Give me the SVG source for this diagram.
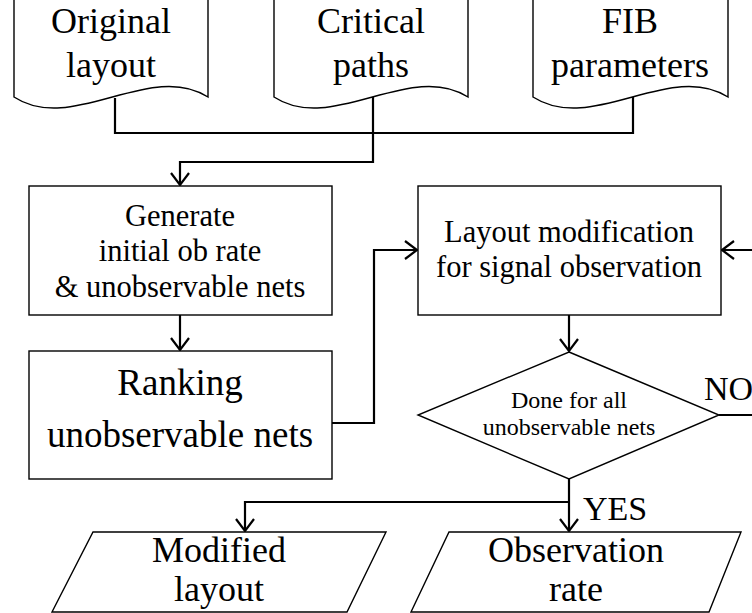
<svg xmlns="http://www.w3.org/2000/svg" width="752" height="613" viewBox="0 0 752 613" font-family="Liberation Serif, serif">
<style>
.shape{fill:#fff;stroke:#000;stroke-width:1.4}
.conn{fill:none;stroke:#000;stroke-width:2.2;stroke-linejoin:miter}
text{fill:#000;text-anchor:middle}
.t36{font-size:36px}
.t30{font-size:30.5px}
.t29{font-size:30.5px}
.t35{font-size:37px}
.t23{font-size:24px}
.t34{font-size:34px}
</style>
<defs>
<marker id="arr" markerUnits="userSpaceOnUse" markerWidth="16" markerHeight="22" refX="13" refY="10" orient="auto" overflow="visible">
<path d="M1,1 L13,10 L1,19" fill="none" stroke="#000" stroke-width="2.2"/>
</marker>
</defs>
<rect width="752" height="613" fill="#fff"/>

<g id="connectors">
<path class="conn" d="M115,98 V133 H633 V97"/>
<path class="conn" d="M373,96 V162 H180 V185" marker-end="url(#arr)"/>
<path class="conn" d="M180,315 V350" marker-end="url(#arr)"/>
<path class="conn" d="M332,423 H374 V250 H417" marker-end="url(#arr)"/>
<path class="conn" d="M569,315 V351" marker-end="url(#arr)"/>
<path class="conn" d="M719,415 H765 V250 H722" marker-end="url(#arr)"/>
<path class="conn" d="M569,479 V531" marker-end="url(#arr)"/>
<path class="conn" d="M569,502 H245 V531" marker-end="url(#arr)"/>
</g>

<g id="doc-original">
<path class="shape" d="M14,-2 H208 V97 C150,60 72,135 14,97 Z"/>
<text class="t36" x="111" y="33" font-family="Liberation Serif, serif">Original</text>
<text class="t36" x="111" y="77" font-family="Liberation Serif, serif">layout</text>
</g>
<g id="doc-critical">
<path class="shape" d="M274,-2 H468 V97 C410,60 332,135 274,97 Z"/>
<text class="t36" x="371" y="33" font-family="Liberation Serif, serif">Critical</text>
<text class="t36" x="371" y="77" font-family="Liberation Serif, serif">paths</text>
</g>
<g id="doc-fib">
<path class="shape" d="M533,-2 H728 V97 C670,60 592,135 533,97 Z"/>
<text class="t36" x="630" y="33" font-family="Liberation Serif, serif">FIB</text>
<text class="t36" x="630" y="77" font-family="Liberation Serif, serif">parameters</text>
</g>

<g id="box-generate">
<rect class="shape" x="29" y="186" width="303" height="129"/>
<text class="t29" x="180" y="226" font-family="Liberation Serif, serif">Generate</text>
<text class="t29" x="180" y="261" font-family="Liberation Serif, serif">initial ob rate</text>
<text class="t29" x="180" y="297" font-family="Liberation Serif, serif">&amp; unobservable nets</text>
</g>
<g id="box-ranking">
<rect class="shape" x="29" y="351" width="303" height="128"/>
<text class="t35" x="180" y="395" font-family="Liberation Serif, serif">Ranking</text>
<text class="t35" x="180" y="447" font-family="Liberation Serif, serif">unobservable nets</text>
</g>
<g id="box-layoutmod">
<rect class="shape" x="418" y="186" width="303" height="129"/>
<text class="t30" x="569" y="242" font-family="Liberation Serif, serif">Layout modification</text>
<text class="t30" x="569" y="277" font-family="Liberation Serif, serif">for signal observation</text>
</g>
<g id="decision">
<polygon class="shape" points="569,352 719,415 569,479 418,415"/>
<text class="t23" x="569" y="408" font-family="Liberation Serif, serif">Done for all</text>
<text class="t23" x="569" y="435" font-family="Liberation Serif, serif">unobservable nets</text>
</g>
<text class="t34" x="704" y="400" style="text-anchor:start" font-family="Liberation Serif, serif">NO</text>
<text class="t34" x="583" y="520" style="text-anchor:start" font-family="Liberation Serif, serif">YES</text>

<g id="out-modified">
<polygon class="shape" points="93,532 386,532 347,612 52,612"/>
<text class="t36" x="219" y="562" font-family="Liberation Serif, serif">Modified</text>
<text class="t36" x="219" y="601" font-family="Liberation Serif, serif">layout</text>
</g>
<g id="out-observation">
<polygon class="shape" points="449,532 741,532 709,612 411,612"/>
<text class="t36" x="576" y="562" font-family="Liberation Serif, serif">Observation</text>
<text class="t36" x="576" y="601" font-family="Liberation Serif, serif">rate</text>
</g>
</svg>
